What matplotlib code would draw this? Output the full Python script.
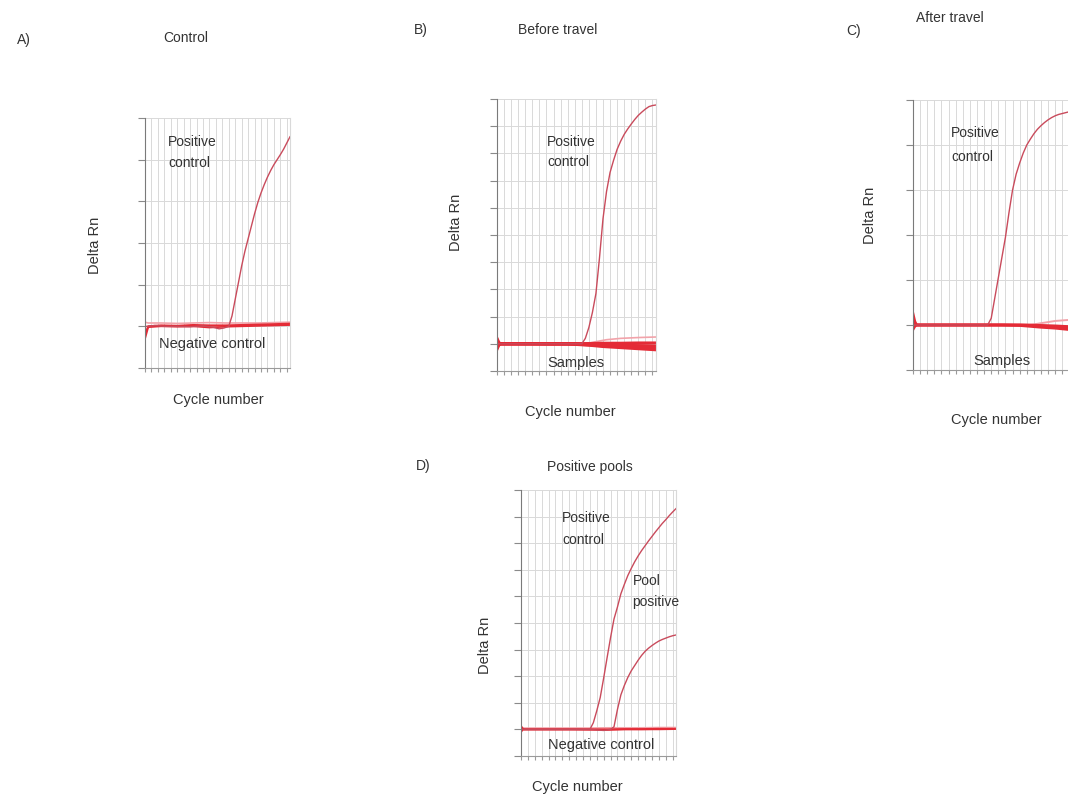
import numpy as np
import matplotlib
matplotlib.use('Agg')
import matplotlib.pyplot as plt
from matplotlib.ticker import MultipleLocator

plt.rcParams['font.family'] = ['Liberation Sans', 'DejaVu Sans']

W, H = 1068, 796

# ---- data (Delta Rn vs cycle) ----
# A) Control
a_base_cyc = [0, 1, 3, 6, 10, 14, 18, 21, 23, 24.5, 26]
a_pos_rise_cyc = [27, 28, 29, 30, 31, 32, 33, 34, 35, 36, 37, 38, 39, 40, 41, 42, 43, 44, 45]
a_pos_base = [1.0, 1.0, 1.02, 1.0, 1.0, 0.99, 1.01, 0.98, 0.94, 0.96, 1.0]
a_pos_rise = [1.25, 1.65, 2.05, 2.45, 2.8, 3.1, 3.4, 3.7, 3.97, 4.2, 4.4, 4.58, 4.74, 4.88, 5.0, 5.12, 5.25, 5.4, 5.55]
a_neg_cyc = [0, 1, 5, 10, 15, 20, 25, 30, 35, 40, 45]
a_neg_1 = [0.72, 1.0, 1.02, 1.01, 1.03, 1.02, 1.02, 1.03, 1.04, 1.05, 1.06]
a_neg_2 = [0.85, 0.98, 1.0, 0.99, 1.0, 0.97, 0.99, 1.0, 1.01, 1.02, 1.03]
a_neg_3 = [1.1, 1.08, 1.08, 1.07, 1.08, 1.09, 1.08, 1.08, 1.08, 1.09, 1.1]

# B) Before travel
b_pos_cyc = [0, 1, 5, 10, 15, 20, 24, 25, 26, 27, 28, 29, 30, 31, 32, 33, 34, 35, 36, 37, 38, 39, 40, 41, 42, 43, 44, 45]
b_pos = [1.0, 1.0, 1.0, 1.0, 1.0, 1.0, 1.0, 1.2, 1.6, 2.15, 2.85, 4.15, 5.6, 6.6, 7.3, 7.75, 8.15, 8.45,
         8.7, 8.9, 9.08, 9.25, 9.4, 9.52, 9.63, 9.72, 9.76, 9.78]
b_smp_cyc = [0, 0.5, 1, 5, 10, 15, 20, 22, 26, 30, 35, 40, 45]
b_smp_1 = [1.2, 1.05, 1.0, 1.0, 1.0, 1.0, 1.0, 1.0, 1.01, 1.02, 1.02, 1.03, 1.03]
b_smp_2 = [0.8, 0.95, 1.0, 1.0, 1.0, 1.0, 1.0, 1.0, 0.98, 0.96, 0.94, 0.92, 0.9]
b_smp_3 = [1.15, 1.02, 1.0, 1.0, 1.0, 1.0, 1.0, 0.99, 0.96, 0.93, 0.9, 0.87, 0.84]
b_smp_4 = [0.85, 0.98, 1.0, 1.0, 1.0, 0.99, 0.99, 0.98, 0.95, 0.9, 0.86, 0.82, 0.78]
b_smp_5 = [1.0, 1.0, 1.0, 1.0, 1.0, 1.0, 1.0, 1.0, 0.99, 0.97, 0.95, 0.93, 0.91]
b_hi_cyc = [0, 5, 10, 15, 20, 25, 28, 31, 35, 40, 45]
b_hi = [1.0, 1.0, 1.0, 1.0, 1.0, 1.0, 1.08, 1.15, 1.2, 1.23, 1.25]

# C) After travel
c_pos_cyc = [0, 1, 5, 10, 15, 20, 21, 22, 23, 24, 25, 26, 27, 28, 29, 30, 31, 32, 33, 34, 35, 36, 37, 38, 39, 40, 41, 42, 43, 44, 45]
c_pos = [1.0, 1.0, 1.0, 1.0, 1.0, 1.0, 1.0, 1.15, 1.6, 2.05, 2.5, 2.95, 3.5, 4.0, 4.35, 4.6, 4.82, 5.0,
         5.13, 5.25, 5.35, 5.43, 5.5, 5.56, 5.61, 5.65, 5.68, 5.7, 5.72, 5.74, 5.76]
c_smp_cyc = [0, 0.5, 1, 5, 10, 15, 20, 25, 30, 33, 36, 40, 45]
c_smp_1 = [1.25, 1.08, 1.0, 1.0, 1.0, 1.0, 1.0, 1.0, 1.0, 0.99, 0.98, 0.96, 0.93]
c_smp_2 = [0.9, 0.97, 1.0, 1.0, 1.0, 1.0, 1.0, 1.0, 0.99, 0.97, 0.95, 0.93, 0.89]
c_smp_3 = [1.15, 1.03, 1.0, 1.0, 1.0, 1.0, 1.0, 1.0, 1.0, 1.0, 0.99, 0.98, 0.96]
c_smp_4 = [1.0, 1.0, 1.0, 1.0, 1.0, 1.0, 1.0, 1.0, 1.0, 1.0, 1.04, 1.09, 1.12]

# D) Positive pools
d_pos_cyc = [0, 1, 5, 10, 15, 20, 21, 22, 23, 24, 25, 26, 27, 28, 29, 30, 31, 32, 33, 34, 35, 36, 37, 38, 39, 40, 41, 42, 43, 44, 45]
d_pos = [1.0, 1.0, 1.0, 1.0, 1.0, 1.0, 1.25, 1.7, 2.2, 2.93, 3.7, 4.45, 5.15, 5.6, 6.1, 6.45, 6.78, 7.05,
         7.3, 7.52, 7.72, 7.9, 8.08, 8.25, 8.42, 8.58, 8.74, 8.88, 9.03, 9.17, 9.3]
d_pool_cyc = [0, 1, 5, 10, 15, 20, 24, 26, 27, 28, 29, 30, 31, 32, 33, 34, 35, 36, 37, 38, 39, 40, 41, 42, 43, 44, 45]
d_pool = [1.0, 1.0, 1.0, 1.0, 1.0, 1.0, 0.96, 1.0, 1.1, 1.75, 2.3, 2.65, 2.95, 3.2, 3.4, 3.6, 3.78, 3.93,
          4.05, 4.15, 4.24, 4.32, 4.38, 4.43, 4.48, 4.52, 4.55]
d_neg_cyc = [0, 0.5, 1, 5, 10, 15, 20, 25, 30, 35, 40, 45]
d_neg_1 = [1.12, 1.03, 1.0, 1.0, 1.0, 1.0, 1.0, 1.0, 1.01, 1.01, 1.02, 1.02]
d_neg_2 = [0.9, 0.98, 1.0, 1.0, 1.0, 1.0, 0.99, 0.98, 1.0, 1.0, 1.0, 1.01]
d_neg_3 = [1.05, 1.05, 1.05, 1.05, 1.05, 1.05, 1.05, 1.06, 1.06, 1.06, 1.07, 1.07]

POS = '#c94b5c'
NEG = '#e42b36'
LIGHT = '#f2a3aa'


def px(x, y):
    return x / W, 1 - y / H


def make_ax(fig, left, top, right, bottom, ymax):
    x0, y1 = px(left, top)
    x1, y0 = px(right, bottom)
    ax = fig.add_axes([x0, y0, x1 - x0, y1 - y0])
    ax.set_xlim(0, 45)
    ax.set_ylim(0, ymax)
    ax.xaxis.set_major_locator(MultipleLocator(2))
    ax.yaxis.set_major_locator(MultipleLocator(1))
    ax.grid(True, color='#d9d9d9', lw=0.7)
    ax.set_axisbelow(True)
    ax.tick_params(axis='y', length=5, width=0.8, color='#8a8a8a', labelleft=False)
    ax.tick_params(axis='x', length=3, width=0.8, color='#9a9a9a', labelbottom=False)
    for s in ['top']:
        ax.spines[s].set_visible(False)
    ax.spines['right'].set_color('#d9d9d9')
    ax.spines['left'].set_color('#7a7a7a')
    ax.spines['bottom'].set_color('#9a9a9a')
    return ax


def ftext(fig, x, y, s, size=10, ha='left', **kw):
    fx, fy = px(x, y)
    fig.text(fx, fy, s, fontsize=size, ha=ha, va='center', color='#333333', **kw)


fig = plt.figure(figsize=(W / 100, H / 100), dpi=100)

# A
ax = make_ax(fig, 145, 118, 290, 368, 6)
ax.plot(a_neg_cyc, a_neg_3, color=LIGHT, lw=1.2)
ax.plot(a_neg_cyc, a_neg_1, color=NEG, lw=1.6)
ax.plot(a_neg_cyc, a_neg_2, color=NEG, lw=1.2)
ax.plot(a_base_cyc + a_pos_rise_cyc, a_pos_base + a_pos_rise, color=POS, lw=1.0)

# B
ax = make_ax(fig, 497, 99, 656, 371, 10)
ax.plot(b_hi_cyc, b_hi, color=LIGHT, lw=1.2)
for s in [b_smp_1, b_smp_2, b_smp_3, b_smp_4, b_smp_5]:
    ax.plot(b_smp_cyc, s, color=NEG, lw=2.2)
ax.plot(b_pos_cyc, b_pos, color=POS, lw=1.0)

# C (extends past the right edge of the figure)
ax = make_ax(fig, 913, 100, 1073, 370, 6)
ax.plot(c_smp_cyc, c_smp_4, color=LIGHT, lw=1.4)
for s in [c_smp_1, c_smp_2, c_smp_3]:
    ax.plot(c_smp_cyc, s, color=NEG, lw=2.0)
ax.plot(c_pos_cyc, c_pos, color=POS, lw=1.0)

# D
ax = make_ax(fig, 521, 490, 676, 756, 10)
ax.plot(d_neg_cyc, d_neg_3, color=LIGHT, lw=1.2)
ax.plot(d_neg_cyc, d_neg_1, color=NEG, lw=1.5)
ax.plot(d_neg_cyc, d_neg_2, color=NEG, lw=1.2)
ax.plot(d_pool_cyc, d_pool, color=POS, lw=1.0)
ax.plot(d_pos_cyc, d_pos, color=POS, lw=1.0)

# panel letters and titles
ftext(fig, 17, 40, 'A)')
ftext(fig, 186, 38, 'Control', ha='center')
ftext(fig, 414, 30, 'B)')
ftext(fig, 558, 30, 'Before travel', ha='center')
ftext(fig, 846, 31, 'C)')
ftext(fig, 950, 18, 'After travel', ha='center')
ftext(fig, 416, 466, 'D)')
ftext(fig, 590, 467, 'Positive pools', ha='center')

# axis labels
for x, y in [(95, 245), (456, 222), (870, 215), (485, 645)]:
    ftext(fig, x, y, 'Delta Rn', size=10.5, ha='center', rotation=90)
for x, y in [(218, 400), (570, 412), (996, 420), (577, 787)]:
    ftext(fig, x, y, 'Cycle number', size=10.5, ha='center')

# curve annotations
ftext(fig, 168, 142, 'Positive')
ftext(fig, 168, 163, 'control')
ftext(fig, 547, 142, 'Positive')
ftext(fig, 547, 162, 'control')
ftext(fig, 951, 133, 'Positive')
ftext(fig, 951, 157, 'control')
ftext(fig, 562, 518, 'Positive')
ftext(fig, 562, 540, 'control')
ftext(fig, 633, 581, 'Pool')
ftext(fig, 632, 602, 'positive')
ftext(fig, 159, 344, 'Negative control', size=10.5)
ftext(fig, 548, 745, 'Negative control', size=10.5)
ftext(fig, 547, 363, 'Samples', size=10.5)
ftext(fig, 973, 361, 'Samples', size=10.5)

fig.savefig('out.png', dpi=100)
